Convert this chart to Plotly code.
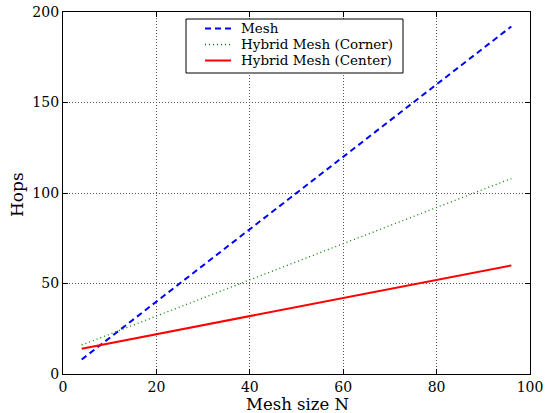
import plotly.graph_objects as go

N = [4, 16, 36, 64, 96]
mesh = [8, 32, 72, 128, 192]
corner = [16, 28, 48, 76, 108]
center = [14, 20, 30, 44, 60]

names = ["Mesh", "Hybrid Mesh (Corner)", "Hybrid Mesh (Center)"]
series = [mesh, corner, center]
styles = [dict(color="blue", width=2, dash="6px,4px"),
          dict(color="green", width=1.3, dash="1px,3px"),
          dict(color="red", width=2)]

font = "DejaVu Serif"
fig = go.Figure()
for nm, ys, st in zip(names, series, styles):
    fig.add_trace(go.Scatter(x=N, y=ys, mode="lines", name=nm, line=st, showlegend=False))

axis_common = dict(showline=True, linecolor="black", linewidth=1.3, mirror="ticks",
                   ticks="inside", ticklen=5, tickcolor="black", automargin=False,
                   showgrid=True, gridcolor="#555", griddash="1px,2px", gridwidth=1,
                   zeroline=False, tickfont=dict(family=font, size=14, color="black"))
fig.update_xaxes(range=[0, 100], dtick=20, ticklabelstandoff=0, **axis_common)
fig.update_yaxes(range=[0, 200], dtick=50, **axis_common)

x0, x1 = 63, 530
y0, y1 = 374, 12
def px(x):
    return (x - x0) / (x1 - x0)
def py(y):
    return (y0 - y) / (y0 - y1)

shapes = [dict(type="rect", xref="paper", yref="paper", x0=px(186), x1=px(403),
               y0=py(73), y1=py(19), line=dict(color="black", width=1), fillcolor="white",
               layer="above")]
annotations = [
    dict(xref="paper", yref="paper", x=px(297), y=py(403.5), text="Mesh size N",
         showarrow=False, xanchor="center", yanchor="middle", height=16,
         font=dict(family=font, size=16.5, color="black")),
    dict(xref="paper", yref="paper", x=px(17), y=py(195), text="Hops", textangle=-90,
         showarrow=False, xanchor="center", yanchor="middle",
         font=dict(family=font, size=17, color="black")),
]
rows = [28.5, 44.5, 60.5]
for nm, st, ry in zip(names, styles, rows):
    shapes.append(dict(type="line", xref="paper", yref="paper", x0=px(205), x1=px(231),
                       y0=py(ry), y1=py(ry), line=st, layer="above"))
    annotations.append(dict(xref="paper", yref="paper", x=px(239), y=py(ry), text=nm,
                            showarrow=False, xanchor="left", yanchor="middle", height=16,
                            font=dict(family=font, size=13.5, color="black")))

fig.update_layout(
    width=545, height=413, margin=dict(l=63, r=15, t=12, b=39),
    plot_bgcolor="white", paper_bgcolor="white",
    font=dict(family=font, size=13.5, color="black"),
    shapes=shapes, annotations=annotations, showlegend=False,
)
fig.write_html("out.html")
